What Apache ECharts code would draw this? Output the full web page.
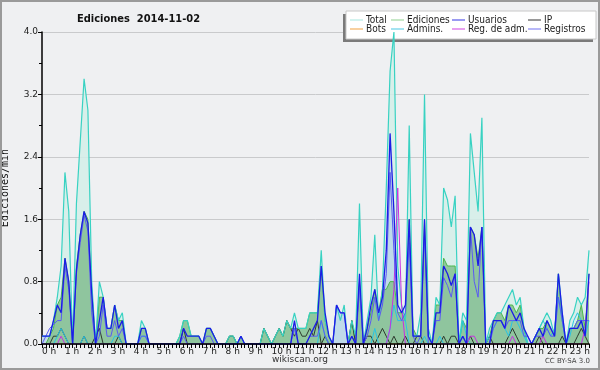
<!DOCTYPE html>
<html>
<head>
<meta charset="utf-8">
<script src="https://cdn.jsdelivr.net/npm/echarts@6/dist/echarts.min.js"></script>
<style>
  html, body { margin: 0; padding: 0; background: #eff0f2; }
  #main { width: 600px; height: 370px; }
</style>
</head>
<body>
<div id="main"></div>
<script>
// etiquetas de horas (una cada 6 intervalos de 10 min)
var hours = ['0 h','1 h','2 h','3 h','4 h','5 h','6 h','7 h','8 h','9 h','10 h','11 h',
             '12 h','13 h','14 h','15 h','16 h','17 h','18 h','19 h','20 h','21 h','22 h','23 h'];
var yTicks = [0, 0.8, 1.6, 2.4, 3.2, 4.0];

// ediciones por minuto, intervalos de 10 min (6 por hora)
var total = [
  0.1,0.1,0.1,0.3,0.6,1.0,  2.2,1.7,0.0,1.8,2.6,3.4,  3.0,0.8,0.0,0.8,0.6,0.2,
  0.2,0.5,0.3,0.4,0.0,0.0,  0.0,0.0,0.3,0.2,0.0,0.0,  0,0,0,0,0,0,
  0.1,0.3,0.3,0.1,0.1,0.1,  0.0,0.2,0.2,0.1,0.0,0.0,  0.0,0.1,0.1,0.0,0.1,0.0,
  0,0,0,0,0.2,0.1,          0.0,0.1,0.2,0.1,0.3,0.2,  0.4,0.2,0.2,0.2,0.4,0.4,
  0.4,1.2,0.3,0.1,0.0,0.5,  0.3,0.5,0.0,0.3,0.1,1.8,  0.0,0.3,0.6,1.4,0.3,0.7,
  2.0,3.5,4.0,1.0,0.5,0.3,  2.8,0.1,0.1,0.4,3.2,0.2,  0.0,0.6,0.5,2.0,1.85,1.5,
  1.9,0.0,0.4,0.3,2.7,2.2,  1.7,2.9,0.0,0.2,0.3,0.4,  0.4,0.5,0.6,0.7,0.5,0.6,
  0.2,0.0,0.0,0.1,0.2,0.3,  0.4,0.3,0.1,0.9,0.4,0.0,  0.3,0.4,0.6,0.5,0.6,1.2
];
var ediciones = [
  0.0,0.0,0.1,0.2,0.5,0.6,  1.1,0.8,0.0,1.0,1.4,1.7,  1.6,0.7,0.0,0.6,0.6,0.2,
  0.2,0.5,0.3,0.3,0.0,0.0,  0.0,0.0,0.2,0.2,0.0,0.0,  0,0,0,0,0,0,
  0.1,0.3,0.3,0.1,0.1,0.1,  0.0,0.2,0.2,0.1,0.0,0.0,  0.0,0.1,0.1,0.0,0.1,0.0,
  0,0,0,0,0.2,0.1,          0.0,0.1,0.2,0.1,0.3,0.2,  0.2,0.2,0.2,0.2,0.4,0.4,
  0.4,1.0,0.3,0.1,0.0,0.0,  0.0,0.0,0.0,0.3,0.0,0.8,  0.0,0.2,0.4,0.7,0.4,0.7,
  0.7,0.8,0.8,0.4,0.4,0.3,  1.6,0.2,0.1,0.1,1.6,0.1,  0.0,0.5,0.5,1.1,1.0,1.0,
  1.0,0.0,0.3,0.2,1.5,1.4,  1.1,1.5,0.0,0.1,0.3,0.4,  0.4,0.3,0.5,0.5,0.4,0.5,
  0.2,0.0,0.0,0.1,0.2,0.2,  0.3,0.2,0.1,0.9,0.3,0.0,  0.2,0.2,0.3,0.5,0.2,0.9
];
var usuarios = [
  0.1,0.1,0.1,0.3,0.5,0.4,  1.1,0.8,0.0,0.95,1.4,1.7, 1.55,0.65,0.0,0.3,0.6,0.2,
  0.2,0.5,0.2,0.3,0.0,0.0,  0.0,0.0,0.2,0.2,0.0,0.0,  0,0,0,0,0,0,
  0.0,0.2,0.1,0.1,0.1,0.1,  0.0,0.2,0.2,0.1,0.0,0.0,  0.0,0.0,0.0,0.0,0.1,0.0,
  0,0,0,0,0,0,              0,0,0,0,0,0,              0.3,0.0,0.0,0.0,0.1,0.2,
  0.3,1.0,0.4,0.1,0.0,0.5,  0.4,0.4,0.0,0.1,0.0,0.9,  0.0,0.2,0.5,0.7,0.4,0.6,
  1.2,2.7,1.7,0.5,0.4,0.5,  1.6,0.1,0.1,0.1,1.6,0.1,  0.0,0.4,0.4,1.0,0.9,0.75,
  0.9,0.0,0.1,0.0,1.5,1.4,  1.0,1.5,0.0,0.0,0.3,0.3,  0.3,0.2,0.5,0.4,0.3,0.4,
  0.2,0.1,0.0,0.1,0.2,0.1,  0.3,0.2,0.1,0.9,0.4,0.0,  0.2,0.2,0.2,0.3,0.1,0.9
];
var ip = [
  0,0,0,0.1,0.1,0.2,  0.1,0,0,0,0,0.1,  0,0,0.1,0.2,0,0,
  0,0,0.1,0,0,0,      0,0,0,0,0,0,      0,0,0,0,0,0,
  0,0.2,0,0,0,0,      0,0,0,0,0,0,      0,0.1,0.1,0,0,0,
  0,0,0,0,0.2,0.1,    0,0.1,0.2,0.1,0.3,0.2,  0.1,0.2,0.1,0.1,0.2,0.1,
  0.3,0,0.1,0,0,0,    0,0,0,0.3,0,0,    0,0.1,0.1,0,0.1,0.2,
  0.1,0,0.1,0,0,0.1,  0,0,0.1,0.1,0,0,  0,0,0,0.1,0,0.1,
  0.1,0,0,0,0.1,0,    0,0,0,0.1,0,0,    0,0,0.1,0.2,0.1,0,
  0,0,0,0,0.1,0,      0,0,0,0,0.1,0,    0,0,0.1,0.2,0.1,0
];
var bots = [
  0,0,0,0,0,0, 0,0,0,0,0,0, 0,0,0,0,0,0, 0,0,0,0,0,0, 0,0,0,0,0,0, 0,0,0,0,0,0,
  0,0,0,0,0,0, 0,0,0,0,0,0, 0,0,0,0,0,0, 0,0,0,0,0,0, 0,0,0,0,0,0, 0,0,0,0,0,0,
  0,0,0,0,0,0, 0,0,0,0,0,0, 0,0,0,0,0,0, 0,0,0,0,0,0, 0,0,0,0,0,0, 0,0,0,0,0,0,
  0,0,0,0,0,0, 0,0,0,0,0,0, 0,0,0,0,0,0, 0,0,0,0,0,0, 0,0,0,0,0,0, 0,0,0,0,0,0
];
var admins = [
  0,0,0,0,0.1,0.2,  0.1,0,0,0,0,0.1,  0,0,0,0,0,0,
  0,0.1,0.1,0,0,0,  0,0,0.1,0.1,0,0,  0,0,0,0,0,0,
  0,0,0,0,0,0,      0,0,0,0,0,0,      0,0,0,0,0,0,
  0,0,0,0,0,0,      0,0,0,0,0,0,      0,0,0,0,0,0,
  0,0.3,0.1,0,0,0,  0,0,0,0,0,0,      0,0,0,0.2,0,0,
  0,0.2,0.5,0.3,0.3,0.3,  0,0,0,0,0.1,0,  0,0,0.1,0,0,0,
  0,0,0.3,0.1,0,0,  0,0,0,0.1,0.2,0.3,  0.3,0.2,0.1,0.3,0.3,0.2,
  0.1,0,0,0.1,0.2,0.3,  0.2,0.1,0.2,0.6,0.3,0,  0.1,0.3,0.4,0.3,0.1,0.3
];
var regAdm = [
  0,0,0,0,0,0.1,  0,0,0,0,0,0,  0,0,0,0,0,0,  0,0,0,0,0,0,  0,0,0,0,0,0,  0,0,0,0,0,0,
  0,0,0,0,0,0,    0,0,0,0,0,0,  0,0,0,0,0,0,  0,0,0,0,0,0,  0,0,0,0,0,0,  0,0,0,0,0,0,
  0,0,0,0,0,0,    0,0,0,0,0,0,  0,0,0,0,0,0,  0,0.2,0.7,2.0,0.5,0,  0,0,0,0,0,0,  0,0,0,0,0,0,
  0,0,0,0,0.1,0.1,  0,0,0,0,0,0,  0,0,0,0.1,0,0,  0,0,0,0,0,0.1,  0,0,0,0,0,0,  0,0,0,0,0.2,0.8
];
var registros = [
  0.0,0.1,0.2,0.25,0.3,0.3,  1.0,0.7,0.0,0.9,1.3,1.65,  1.45,0.4,0.0,0.1,0.5,0.1,
  0.1,0.3,0.1,0.2,0.0,0.0,   0,0,0.1,0.1,0,0,           0,0,0,0,0,0,
  0,0.1,0,0,0,0,             0,0.1,0.1,0,0,0,           0,0,0,0,0.1,0,
  0,0,0,0,0,0,               0,0,0,0,0,0,               0.2,0,0,0,0.1,0.1,
  0.1,0.3,0.1,0,0,0.5,       0.4,0.4,0.0,0.1,0.0,0.7,   0.0,0.1,0.3,0.6,0.3,0.5,
  0.9,2.2,1.2,0.4,0.3,0.4,   1.3,0.1,0.0,0.1,1.4,0.0,   0.0,0.3,0.3,0.85,0.75,0.6,
  0.9,0.0,0.1,0.0,1.5,0.8,   0.6,1.5,0.0,0.0,0.2,0.3,   0.3,0.2,0.3,0.3,0.3,0.3,
  0.1,0.1,0,0.1,0.1,0.1,     0.2,0.1,0.1,0.6,0.3,0.0,   0.2,0.2,0.3,0.3,0.3,0.3
];

var names = ['Total', 'Ediciones', 'Usuarios', 'IP', 'Bots', 'Admins.', 'Reg. de adm.', 'Registros'];
var legendColors = ['#a6e6de', '#8fd08f', '#3434e4', '#333333', '#f0a040', '#48c6e2', '#d040e0', '#7070f0'];

// categorias: 144 intervalos, etiqueta solo al inicio de cada hora
var cats = [];
hours.forEach(function (h) { cats.push(h, '', '', '', '', ''); });

var myChart = echarts.init(document.getElementById('main'));

function lineSerie(name, data, color, width, z) {
  return {
    name: name, type: 'line', data: data, showSymbol: false, z: z,
    itemStyle: {color: color}, lineStyle: {color: color, width: width},
    emphasis: {disabled: true}
  };
}
function areaSerie(name, data, color, opacity, z) {
  return {
    name: name, type: 'line', data: data, showSymbol: false, z: z,
    lineStyle: {width: 0}, areaStyle: {color: color, opacity: opacity},
    emphasis: {disabled: true}
  };
}

// leyenda: 4 columnas x 2 filas
var legCols = [350, 391, 452, 528];
var legRows = [15, 24];
var legends = names.map(function (n, i) {
  return {
    data: [{name: n, itemStyle: {color: legendColors[i]}}],
    left: legCols[i % 4], top: legRows[Math.floor(i / 4)], z: 120,
    icon: 'rect', itemWidth: 13, itemHeight: 1, itemGap: 0, padding: 0,
    selectedMode: false,
    textStyle: {fontFamily: 'DejaVu Sans Condensed', fontSize: 10, color: '#222', padding: [0, 0, 0, -2]}
  };
});

myChart.setOption({
  animation: false,
  backgroundColor: '#eff0f2',
  title: {
    text: 'Ediciones  2014-11-02', left: 72, top: 9,
    textStyle: {fontFamily: 'DejaVu Sans Condensed', fontWeight: 'bold', fontSize: 11, color: '#111'}
  },
  legend: legends,
  graphic: [
    {type: 'rect', shape: {x: 1, y: 1, width: 598, height: 368},
     style: {fill: 'none', stroke: '#9a9a9a', lineWidth: 2}, z: 100},
    {type: 'rect', shape: {x: 343, y: 14, width: 250, height: 28},
     style: {fill: '#7a7a7a'}, z: 1},
    {type: 'rect', shape: {x: 346, y: 11, width: 250, height: 28},
     style: {fill: '#ffffff', stroke: '#c8c8c8', lineWidth: 1}, z: 2},
    {type: 'text', left: 'center', top: 355,
     style: {text: 'wikiscan.org', fontFamily: 'DejaVu Sans', fontSize: 9, fill: '#333'}, z: 100},
    {type: 'text', right: 10, top: 358,
     style: {text: 'CC BY-SA 3.0', fontFamily: 'DejaVu Sans', fontSize: 7, fill: '#444'}, z: 100}
  ],
  grid: {left: 42, right: 11, top: 32, bottom: 26, outerBoundsMode: 'none'},
  xAxis: {
    type: 'category', data: cats, boundaryGap: false, z: 10,
    axisLine: {lineStyle: {color: '#000', width: 1.5}},
    axisTick: {interval: 0, length: 4, lineStyle: {color: '#000', width: 1}},
    axisLabel: {interval: 5, align: 'left', margin: 3, fontFamily: 'DejaVu Sans', fontSize: 9, color: '#222'},
    splitLine: {show: false}
  },
  yAxis: {
    type: 'value', min: yTicks[0], max: yTicks[yTicks.length - 1], interval: yTicks[1] - yTicks[0],
    name: 'Ediciones/min', nameLocation: 'middle', nameGap: 32,
    nameTextStyle: {fontFamily: 'DejaVu Sans Mono', fontSize: 10, color: '#111'},
    axisLine: {show: true, lineStyle: {color: '#000', width: 1.5}},
    axisTick: {show: true, length: 4, lineStyle: {color: '#000'}},
    minorTick: {show: true, splitNumber: 2, length: 3, lineStyle: {color: '#000'}},
    axisLabel: {margin: 4, fontFamily: 'DejaVu Sans', fontSize: 9, color: '#222',
                formatter: function (v) { return v.toFixed(1); }},
    splitLine: {lineStyle: {color: '#c9cacc', width: 1}}
  },
  series: [
    areaSerie('area total', total, '#d4efe9', 0.85, 1),
    areaSerie('area usuarios', usuarios, '#bcd7e9', 0.9, 1),
    areaSerie('area ediciones', ediciones, '#8cc49a', 0.95, 1),
    lineSerie('Bots', bots, '#f0a040', 1, 2),
    lineSerie('Ediciones', ediciones, '#4cb84c', 1, 2),
    lineSerie('IP', ip, '#2e3a2e', 1, 2),
    lineSerie('Admins.', admins, '#28c4e4', 1, 2),
    lineSerie('Total', total, '#38d2c2', 1.2, 2),
    lineSerie('Reg. de adm.', regAdm, '#c830e0', 1, 2),
    lineSerie('Registros', registros, '#5a5af2', 1, 2),
    lineSerie('Usuarios', usuarios, '#1c1ce6', 1.3, 2)
  ]
});
</script>
</body>
</html>
